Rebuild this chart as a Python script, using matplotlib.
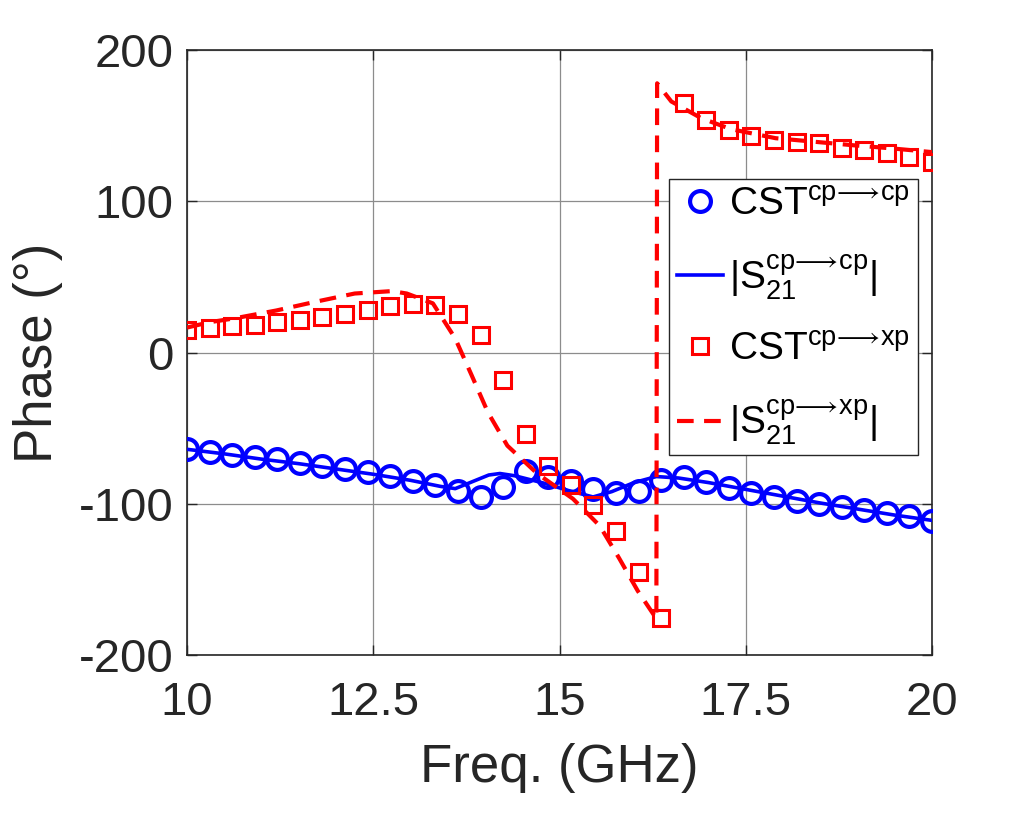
import matplotlib
matplotlib.use("Agg")
import matplotlib.pyplot as plt
import numpy as np

plt.rcParams["font.family"] = ["Liberation Sans", "DejaVu Sans"]
plt.rcParams["mathtext.fontset"] = "custom"
plt.rcParams["mathtext.rm"] = "Liberation Sans"
plt.rcParams["mathtext.it"] = "Liberation Sans"
plt.rcParams["mathtext.sf"] = "Liberation Sans"
plt.rcParams["mathtext.fallback"] = "stixsans"
plt.rcParams["axes.unicode_minus"] = False

# CST markers (34 points from 10 to 20 GHz)
freq_cst = np.linspace(10, 20, 34)
cst_cp = [-63.6, -66.0, -67.5, -69.3, -70.4, -73.3, -75.0, -77.0, -79.3, -81.5,
          -84.8, -87.4, -91.8, -95.4, -89.2, -78.1, -82.6, -85.2, -90.3, -93.2,
          -91.4, -84.1, -82.6, -85.9, -89.6, -93.2, -95.8, -98.0, -100.2, -102.0,
          -104.2, -105.8, -108.0, -111.3]
cst_xp = [15.0, 16.1, 17.2, 17.9, 20.1, 21.6, 23.4, 25.6, 28.3, 30.5,
          31.8, 31.1, 25.6, 11.9, -18.5, -53.8, -74.8, -87.4, -100.7, -118.3,
          -144.8, -175.3, 165.1, 153.6, 147.0, 143.0, 140.8, 139.3, 138.2, 135.5,
          133.8, 132.0, 129.3, 126.0]

# model curves
freq_s_cp = [10, 10.5, 11, 11.5, 12, 12.5, 13, 13.4, 13.6, 13.85, 14.05, 14.2,
             14.4, 14.8, 15.1, 15.45, 15.7, 16.0, 16.3, 16.6, 17, 17.5, 18,
             18.5, 19, 19.5, 20]
s_cp = [-64, -67, -70.5, -73.5, -77, -80.5, -84.5, -88.5, -90, -85, -81, -80,
        -81.5, -86.5, -91, -95.5, -92, -86, -82, -83, -86, -90.5, -95,
        -99.5, -103.5, -107.5, -111]

freq_s_xp = [10, 10.3, 10.65, 11.2, 11.7, 12.25, 12.75, 12.95, 13.3, 13.6,
             13.82, 14.04, 14.3, 14.7, 15.18, 15.54, 15.8, 16.05, 16.3, 16.31,
             16.5, 16.9, 17.3, 17.9, 18.5, 18.95, 19.45, 20]
s_xp = [16.5, 20, 22.7, 27.8, 33.3, 39, 40.6, 39, 32.5, 9.3,
        -15, -39.7, -61.6, -80, -96.7, -114.6, -136, -157.6, -176, 178,
        166, 155, 147.7, 141.7, 139, 137, 135, 132.5]

x_ticks = [10, 12.5, 15, 17.5, 20]
x_tick_labels = ["10", "12.5", "15", "17.5", "20"]
y_ticks = [-200, -100, 0, 100, 200]

fig = plt.figure(figsize=(10.31, 8.16), dpi=100)
ax = fig.add_axes([0.1814, 0.1973, 0.7226, 0.7414])

text_color = "#262626"
arrow = r"\!\longrightarrow\!"

ax.plot(freq_cst, cst_cp, "o", color="blue", markerfacecolor="none",
        markersize=15, markeredgewidth=3,
        label=r"CST$^{\mathrm{cp}" + arrow + r"\mathrm{cp}}$", zorder=3)
ax.plot(freq_s_cp, s_cp, "-", color="blue", linewidth=2.6,
        label=r"|S$_{21}^{\mathrm{cp}" + arrow + r"\mathrm{cp}}$|", zorder=3)
ax.plot(freq_cst, cst_xp, "s", color="red", markerfacecolor="none",
        markersize=12, markeredgewidth=2.2,
        label=r"CST$^{\mathrm{cp}" + arrow + r"\mathrm{xp}}$", zorder=3)
ax.plot(freq_s_xp, s_xp, "--", color="red", linewidth=3, dashes=(4, 2.5),
        label=r"|S$_{21}^{\mathrm{cp}" + arrow + r"\mathrm{xp}}$|", zorder=3)

ax.set_xlim(10, 20)
ax.set_ylim(-200, 200)
ax.set_xticks(x_ticks)
ax.set_xticklabels(x_tick_labels)
ax.set_yticks(y_ticks)

ax.grid(True, color="#8c8c8c", linewidth=0.9)
ax.set_axisbelow(True)

ax.tick_params(direction="in", length=7, width=1, colors=text_color,
               labelsize=34, top=True, right=True)
ax.tick_params(axis="x", pad=19)
ax.tick_params(axis="y", pad=10)
for spine in ax.spines.values():
    spine.set_color(text_color)
    spine.set_linewidth(1.2)

ax.set_xlabel("Freq. (GHz)", fontsize=38, color=text_color, labelpad=13)
ax.set_ylabel("Phase (°)", fontsize=38, color=text_color, labelpad=11)

leg = ax.legend(loc="upper right", bbox_to_anchor=(0.981, 0.787),
                fontsize=28, frameon=True, fancybox=False, framealpha=1,
                edgecolor=text_color, handlelength=1.2, handletextpad=0.15,
                borderpad=0.2, labelspacing=0.78, borderaxespad=0)
leg.get_frame().set_linewidth(1.0)
for t in leg.get_texts():
    t.set_color("black")

fig.savefig("out.png", dpi=100)
